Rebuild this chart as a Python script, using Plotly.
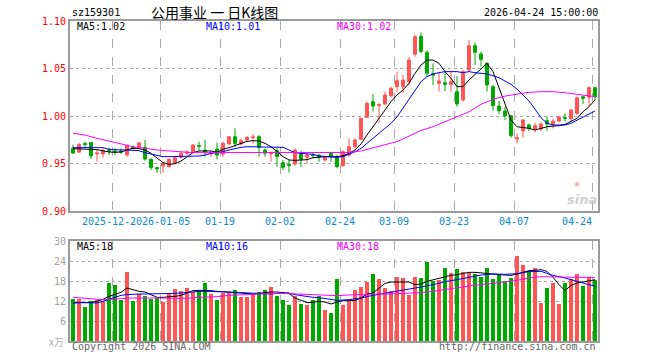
import plotly.graph_objects as go

# ---------------- data ----------------
code = "sz159301"
title_cn = "公用事业 一 日K线图"
stamp = "2026-04-24 15:00:00"

opens = [.966,.962,.971,.972,.960,.960,.964,.963,.963,.959,.967,.9667,.967,.9544,.9456,.9474,.9467,.9509,.9565,.9607,
         .9624,.9690,.964,.960,.9653,.960,.9705,.9782,.9705,.9747,.9772,.9782,.9642,.960,.9635,.9509,.949,.9495,.9607,.9565,
         .959,.9589,.9537,.9607,.9565,.9477,.9589,.9677,.9754,.9986,1.0151,1.011,1.0126,1.0211,1.0309,1.0309,1.036,1.065,1.084,1.067,
         1.0445,1.0344,1.0351,1.0333,1.0256,1.0168,1.0484,1.074,1.0653,1.0554,1.0309,1.0105,1.0052,1.0003,.9758,.9842,.9905,.9863,.9863,.9951,
         .9912,.9947,.9982,.9975,1.0028,1.0203,1.0196,1.0298]
highs = [.970,.972,.973,.973,.964,.966,.967,.966,.966,.970,.969,.9726,.9747,.9554,.9467,.951,.9554,.9572,.9624,.964,
         .9705,.973,.975,.963,.972,.973,.979,.987,.9765,.9789,.9811,.980,.966,.9624,.966,.9537,.9537,.966,.9635,.9607,
         .9614,.960,.958,.9624,.959,.9642,.9765,.9765,.9986,1.0151,1.0232,1.0133,1.0256,1.0309,1.0467,1.0432,1.062,1.0855,1.088,1.069,
         1.0555,1.0467,1.0467,1.0467,1.0421,1.0484,1.080,1.0775,1.0677,1.0565,1.0326,1.0158,1.0098,1.001,.9817,.9965,.9923,.993,.993,.9993,
         .9968,1.0003,1.0028,1.0073,1.0203,1.0214,1.0316,1.0309]
lows = [.960,.961,.967,.955,.952,.956,.959,.959,.960,.957,.965,.966,.953,.9432,.9403,.9403,.9456,.9502,.9554,.9589,
        .9614,.9635,.957,.957,.9544,.9572,.969,.9677,.9695,.974,.9712,.9572,.9572,.9519,.9467,.9432,.9403,.9477,.9467,.9502,
        .9554,.952,.952,.9519,.945,.9467,.957,.966,.9747,.9976,1.0046,.993,1.0116,1.0204,1.0256,1.0239,1.032,1.0625,1.066,1.041,
        1.0326,1.0256,1.0263,1.0256,1.0098,1.0151,1.0467,1.0537,1.052,1.0256,1.0056,1.0021,.9958,.9772,.9712,.9772,.9842,.9828,.9842,.9842,
        .987,.9933,.994,.994,1.001,1.0126,1.0098,1.0168]
closes = [.961,.970,.970,.958,.961,.9635,.963,.962,.962,.969,.966,.9716,.9547,.9456,.9445,.9502,.9544,.9561,.9607,.9621,
          .9695,.968,.962,.961,.9589,.9712,.9782,.9712,.974,.9775,.9779,.967,.9607,.961,.9572,.946,.948,.9642,.9544,.9589,
          .9585,.9565,.9565,.9572,.9467,.9624,.9677,.9747,.9976,1.0133,1.0105,1.012,1.0221,1.0291,1.0372,1.0379,1.059,1.0835,1.068,1.045,
          1.043,1.0369,1.0333,1.0361,1.0126,1.0467,1.074,1.067,1.0596,1.0326,1.0109,1.0056,1.0003,.9793,.9772,.9958,.987,.9898,.9916,.9916,
          .9947,.9989,.9975,1.0063,1.0193,1.0186,1.0298,1.0203]
volumes = [12.5,12.6,10.2,12.0,12.3,12.0,17.4,16.8,12.3,20.7,12.0,14.2,13.5,12.7,12.9,11.8,14.2,15.6,15.0,15.9,
           14.7,15.1,17.4,14.1,12.3,14.4,14.4,15.3,13.2,13.2,14.0,14.7,15.3,16.2,13.5,12.3,10.8,13.5,11.1,10.8,
           12.3,13.5,9.3,8.4,18.6,10.8,12.0,15.3,16.2,17.7,20.1,18.6,15.9,15.0,19.2,18.9,13.8,19.2,18.9,23.7,
           18.0,18.3,21.9,20.4,21.6,20.7,20.4,20.1,19.2,21.9,18.6,20.1,18.0,18.9,25.5,22.8,21.0,21.9,11.4,15.9,
           17.4,11.1,17.4,18.6,20.1,16.5,19.2,18.3]

price_ma5 = [.9656,.9656,.9653,.9649,.9646,.9635,.9621,.9618,.9621,.9642,.9660,.9656,.9642,.9607,.9558,.9509,.9491,.9498,.9526,.9572,
             .9614,.9632,.9635,.9632,.9618,.9649,.9667,.9688,.9712,.9733,.9740,.9737,.9712,.9677,.9628,.9572,.9537,.9533,.9537,.9540,
             .9561,.9568,.9572,.9572,.9572,.9582,.9607,.9642,.9705,.9800,.9888,.9983,1.0070,1.0151,1.0221,1.0274,1.0344,1.0449,1.0537,1.0589,
             1.0589,1.0554,1.0467,1.0396,1.0309,1.0309,1.0379,1.0439,1.0502,1.0554,1.0467,1.0291,1.0116,.9958,.9887,.9877,.9870,.9852,.9870,.9887,
             .9894,.9898,.9912,.9940,.9975,1.0045,1.0098,1.0168]
price_ma10 = [.9667,.9667,.9667,.9667,.9667,.9667,.9649,.9642,.9642,.9642,.9642,.9635,.9614,.9600,.9589,.9572,.9572,.9572,.9572,.9572,
              .9572,.9579,.9589,.9607,.9614,.9624,.9642,.9660,.9670,.9677,.9677,.9677,.9677,.9677,.9677,.9670,.9642,.9614,.9607,.9600,
              .9596,.9579,.9572,.9565,.9565,.9572,.9596,.9624,.9660,.9712,.9765,.9818,.9870,.9923,.9990,1.0080,1.0170,1.0270,1.0361,1.0414,
              1.0442,1.0456,1.0467,1.0467,1.0467,1.0456,1.0467,1.0456,1.0449,1.0442,1.0424,1.0403,1.0368,1.0333,1.0284,1.0221,1.0158,1.0073,.9982,.9923,
              .9905,.9905,.9905,.9923,.9958,.9986,1.0021,1.0052]
price_ma30_idx = [0,2,4,6,8,10,12,14,16,18,20,22,24,30,36,42,46,48,50,52,54,56,58,60,62,64,66,68,70,72,74,76,78,80,82,84,86,87]
price_ma30 = [.9818,.9800,.9765,.9733,.9705,.9677,.9660,.9642,.9632,.9624,.9614,.9614,.9616,.9616,.9616,.9616,.9616,.9632,.9667,.9695,
              .9730,.9788,.9848,.9887,.9940,.9993,1.0045,1.0123,1.0175,1.0210,1.0231,1.0249,1.0256,1.0256,1.0245,1.0231,1.0214,1.0203]

vol_ma5 = [11.4,11.4,11.4,11.6,11.9,12.5,13.4,14.1,14.6,15.9,15.4,14.9,14.7,13.9,13.1,13.1,13.2,13.4,13.7,14.3,
           15.1,15.2,15.2,15.1,14.9,14.7,14.6,14.5,14.4,14.2,14.1,14.3,14.6,14.7,14.7,14.6,14.3,12.9,12.1,11.5,
           11.6,11.9,11.7,11.1,11.7,12.1,12.1,12.2,12.9,14.1,14.4,15.9,17.3,17.7,17.7,17.7,17.7,16.9,17.1,17.9,
           18.4,18.9,19.2,19.7,19.9,20.2,20.6,20.6,20.5,20.3,20.1,19.9,19.7,19.7,20.1,20.7,21.1,21.2,21.4,20.9,
           19.1,16.9,15.1,16.7,17.4,17.7,18.1,18.4]
vol_ma10_idx = list(range(0, 44)) + [44,46,48,50,52,54,56,58,60,62,64,66,68,70,72,74,76,78,80,82,84,86,87]
vol_ma10 = [11.6,11.5,11.4,11.4,11.4,11.9,12.5,13.2,13.7,13.9,14.1,14.1,14.1,14.1,14.1,14.1,14.2,14.3,14.4,14.6,
            14.8,14.9,14.9,14.9,14.9,14.8,14.7,14.6,14.5,14.5,14.4,14.3,14.2,14.1,14.3,14.4,14.4,13.9,13.6,13.3,
            13.1,13.0,12.8,12.5,
            12.2,12.4,12.9,13.7,14.3,14.9,15.4,16.2,16.9,17.8,18.4,19.2,19.8,20.1,20.0,20.2,20.8,20.9,19.7,18.9,17.9,16.9,16.4]
vol_ma30_idx = [0,3,5,7,10,14,19,21,24,26,28,30,34,36,38,40,42,44,46,48,50,52,54,56,58,60,62,64,66,68,70,72,74,76,78,80,82,84,87]
vol_ma30 = [13.1,12.7,12.4,12.6,12.9,12.9,12.8,13.1,13.3,13.7,13.9,14.1,14.3,14.2,14.0,13.8,13.6,13.6,13.8,14.0,
            14.1,14.1,14.2,14.3,14.5,14.9,15.5,16.0,16.5,16.9,17.2,17.7,18.2,18.9,19.3,19.2,19.1,19.1,19.1]

ma_labels_price = ["MA5:1.02", "MA10:1.01", "MA30:1.02"]
ma_labels_vol = ["MA5:18", "MA10:16", "MA30:18"]

tick_idx = [7, 15, 25, 35, 45, 54, 64, 74, 87]
# the first label is partly hidden behind the second one in the picture; only "2025-12-" shows
tick_labels = ["2025-12-", "2026-01-05", "01-19", "02-02", "02-24", "03-09", "03-23", "04-07", "04-24"]
price_ticks = [0.90, 0.95, 1.00, 1.05, 1.10]
vol_ticks = [6, 12, 18, 24, 30]

# ---------------- styling ----------------
RED = "#ff5555"
GREEN = "#00a800"
MONO = "DejaVu Sans Mono"
GRID = "#aaaaaa"
FRAME = "#9a9a9a"

n = len(closes)
x = list(range(n))
vol_colors = [RED if c >= o else GREEN for o, c in zip(opens, closes)]
grid_pos = [i - 0.42 for i in tick_idx]

fig = go.Figure()

fig.add_trace(go.Candlestick(
    x=x, open=opens, high=highs, low=lows, close=closes,
    increasing=dict(line=dict(color=RED, width=1), fillcolor=RED),
    decreasing=dict(line=dict(color=GREEN, width=1), fillcolor=GREEN),
    whiskerwidth=0, showlegend=False, hoverinfo="skip",
    xaxis="x", yaxis="y"))

fig.add_trace(go.Scatter(x=x, y=price_ma5, mode="lines", line=dict(color="#000000", width=1),
                         showlegend=False, hoverinfo="skip", xaxis="x", yaxis="y"))
fig.add_trace(go.Scatter(x=x, y=price_ma10, mode="lines", line=dict(color="#0000ff", width=1),
                         showlegend=False, hoverinfo="skip", xaxis="x", yaxis="y"))
fig.add_trace(go.Scatter(x=price_ma30_idx, y=price_ma30, mode="lines", line=dict(color="#ff00ff", width=1),
                         showlegend=False, hoverinfo="skip", xaxis="x", yaxis="y"))

fig.add_trace(go.Bar(x=x, y=volumes, marker=dict(color=vol_colors, line=dict(width=0)), width=0.83,
                     showlegend=False, hoverinfo="skip", xaxis="x2", yaxis="y2"))
fig.add_trace(go.Scatter(x=x, y=vol_ma5, mode="lines", line=dict(color="#000000", width=1),
                         showlegend=False, hoverinfo="skip", xaxis="x2", yaxis="y2"))
fig.add_trace(go.Scatter(x=vol_ma10_idx, y=vol_ma10, mode="lines", line=dict(color="#0000ff", width=1),
                         showlegend=False, hoverinfo="skip", xaxis="x2", yaxis="y2"))
fig.add_trace(go.Scatter(x=vol_ma30_idx, y=vol_ma30, mode="lines", line=dict(color="#ff00ff", width=1),
                         showlegend=False, hoverinfo="skip", xaxis="x2", yaxis="y2"))

axis_common = dict(range=[-0.5, n - 0.5], tickmode="array", tickvals=grid_pos, showticklabels=False,
                   ticks="", showgrid=True, gridcolor=GRID, griddash="dash", gridwidth=1,
                   showline=True, mirror=True, linecolor=FRAME, linewidth=2, zeroline=False, fixedrange=True)

W, H = 660, 360
PL, PT, PR, PB = 70, 21, 62, 19
ph = H - PT - PB
pw = W - PL - PR


def py(Y):  # window pixel Y -> paper coordinate
    return (H - PB - Y) / ph


def px(X):  # window pixel X -> paper coordinate
    return (X - PL) / pw


fig.update_layout(
    width=W, height=H, autosize=False,
    margin=dict(l=PL, r=PR, t=PT, b=PB, pad=0),
    paper_bgcolor="white", plot_bgcolor="white",
    boxgap=0.3,
    bargap=0,
    hovermode=False,
    xaxis=dict(anchor="y", domain=[0, 1], rangeslider=dict(visible=False), **axis_common),
    xaxis2=dict(anchor="y2", domain=[0, 1], matches="x", **axis_common),
    yaxis=dict(domain=[py(211), 1], range=[0.90, 1.10], tickmode="array", tickvals=price_ticks,
               ticktext=[f"{v:.2f}" for v in price_ticks], tickfont=dict(family=MONO, size=10, color="#ff0000"),
               ticks="", showgrid=True, gridcolor=GRID, griddash="dot", gridwidth=1,
               showline=True, mirror=True, linecolor=FRAME, linewidth=2, zeroline=False, fixedrange=True),
    yaxis2=dict(domain=[0, py(241)], range=[0, 30], tickmode="array", tickvals=vol_ticks,
                ticktext=[str(v) for v in vol_ticks], tickfont=dict(family=MONO, size=10, color="#a0a0a0"),
                ticks="", showgrid=True, gridcolor=GRID, griddash="dot", gridwidth=1,
                showline=True, mirror=True, linecolor=FRAME, linewidth=2, zeroline=False, fixedrange=True),
)

ann = []
# header
ann.append(dict(text=code, x=px(70), y=py(12), xref="paper", yref="paper", xanchor="left", yanchor="middle",
                showarrow=False, font=dict(family=MONO, size=10, color="#000")))
ann.append(dict(text=title_cn, x=px(149), y=py(12), xref="paper", yref="paper", xanchor="left", yanchor="middle",
                showarrow=False, font=dict(family="Noto Sans CJK SC", size=14, color="#000")))
ann.append(dict(text=stamp, x=px(600), y=py(12), xref="paper", yref="paper", xanchor="right", yanchor="middle",
                showarrow=False, font=dict(family=MONO, size=10, color="#000")))
# MA labels
ma_cols = ["#000000", "#0000ff", "#ff00ff"]
ma_x = [75, 204, 335]
for lbl, col, mx in zip(ma_labels_price, ma_cols, ma_x):
    ann.append(dict(text=lbl, x=px(mx), y=py(26.5), xref="paper", yref="paper", xanchor="left", yanchor="middle",
                    showarrow=False, font=dict(family=MONO, size=10, color=col)))
for lbl, col, mx in zip(ma_labels_vol, ma_cols, ma_x):
    ann.append(dict(text=lbl, x=px(mx), y=py(246.5), xref="paper", yref="paper", xanchor="left", yanchor="middle",
                    showarrow=False, font=dict(family=MONO, size=10, color=col)))
# date labels
for k, (ti, tl) in enumerate(zip(tick_idx, tick_labels)):
    last = k == len(tick_idx) - 1
    if k == 0:
        # sits right against the left side of the second label
        ann.append(dict(text=tl, x=tick_idx[1] - 0.55, y=py(221.5), xref="x", yref="paper",
                        xanchor="right", yanchor="middle", xshift=-30.1, showarrow=False,
                        borderpad=0, borderwidth=0,
                        font=dict(family=MONO, size=10, color="#0a88d0")))
        continue
    ann.append(dict(text=tl, x=ti - 0.55, y=py(221.5), xref="x", yref="paper",
                    xanchor="right" if last else "center", yanchor="middle", showarrow=False,
                    borderpad=0, borderwidth=0,
                    font=dict(family=MONO, size=10, color="#0a88d0")))
# footer
ann.append(dict(text="x万", x=px(56), y=py(341), xref="paper", yref="paper", xanchor="center", yanchor="middle",
                showarrow=False, font=dict(family="Noto Sans CJK SC", size=10, color="#b0b0b0")))
ann.append(dict(text="Copyright 2026 SINA.COM", x=px(70), y=py(346), xref="paper", yref="paper",
                xanchor="left", yanchor="middle", showarrow=False, font=dict(family=MONO, size=10, color="#666")))
ann.append(dict(text="http://finance.sina.com.cn", x=px(598), y=py(346), xref="paper", yref="paper",
                xanchor="right", yanchor="middle", showarrow=False, font=dict(family=MONO, size=10, color="#666")))
# watermark
ann.append(dict(text="sina", x=px(582), y=py(199), xref="paper", yref="paper", xanchor="center", yanchor="middle",
                showarrow=False, borderpad=0,
                font=dict(family="DejaVu Sans", size=13, color="#d0d0d0", style="italic", weight="bold")))
ann.append(dict(text="◉", x=px(577), y=py(184), xref="paper", yref="paper", xanchor="center", yanchor="middle",
                showarrow=False, borderpad=0,
                font=dict(family="DejaVu Sans", size=7, color="#f2b0b0")))

fig.update_layout(annotations=ann)
# remove the page's default 8px body margin so the figure sits at the window's corner
fig.write_html("out.html", config={"displayModeBar": False, "staticPlot": True},
               post_script="document.body.style.margin='0px';")
